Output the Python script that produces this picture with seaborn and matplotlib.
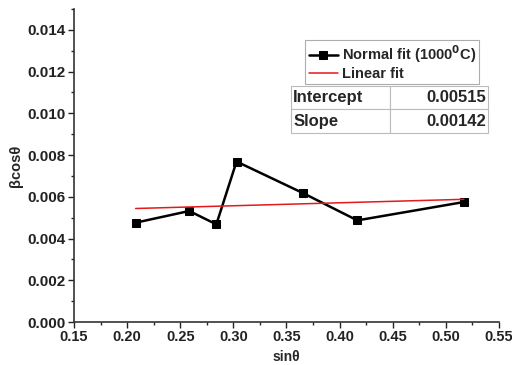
import matplotlib

matplotlib.use("Agg")

import matplotlib.pyplot as plt
import seaborn as sns
from matplotlib.ticker import MultipleLocator

# data
sin_theta = [0.208, 0.2585, 0.284, 0.303, 0.3655, 0.4167, 0.517]
beta_cos = [0.00476, 0.00532, 0.00468, 0.00769, 0.00618, 0.00487, 0.00575]
fit_x = [0.208, 0.517]
fit_y = [0.00544, 0.00588]
table_rows = [["Intercept", "0.00515"], ["Slope", "0.00142"]]

sns.set_style("ticks")
plt.rcParams['font.family'] = ['Liberation Sans', 'DejaVu Sans']
plt.rcParams['font.weight'] = 'bold'

fig = plt.figure(figsize=(5.12, 3.65), dpi=100)
ax = fig.add_axes([0.1445, 0.1178, 0.830, 0.8575])

sns.lineplot(x=sin_theta, y=beta_cos, ax=ax, color='black', lw=1.8,
             marker='s', markersize=5.5, markeredgecolor='black',
             label='Normal fit (1000$^0$C)')
sns.lineplot(x=fit_x, y=fit_y, ax=ax, color='#e31a1c', lw=1.1,
             label='Linear fit')

ax.set_xlim(0.15, 0.55)
ax.set_ylim(0, 0.015)
ax.xaxis.set_major_locator(MultipleLocator(0.05))
ax.xaxis.set_minor_locator(MultipleLocator(0.025))
ax.yaxis.set_minor_locator(MultipleLocator(0.001))
ax.set_yticks([0, 0.002, 0.004, 0.006, 0.008, 0.010, 0.012, 0.014])
ax.set_yticklabels([f"{v:.3f}" for v in ax.get_yticks()])
ax.set_xticklabels([f"{v:.2f}" for v in ax.get_xticks()])

for s in ['top', 'right']:
    ax.spines[s].set_visible(False)
for s in ['left', 'bottom']:
    ax.spines[s].set_color('#333333')
    ax.spines[s].set_linewidth(1.2)
ax.tick_params(which='major', direction='out', length=4, width=1,
               colors='#222222', pad=2)
ax.tick_params(axis='y', labelsize=11)
ax.tick_params(axis='x', labelsize=10.5)
ax.tick_params(which='minor', direction='out', length=2.5, width=1)
for t in ax.get_xticklabels() + ax.get_yticklabels():
    t.set_fontweight('bold')

ax.set_xlabel('sin\u03b8', fontsize=10, fontweight='bold', labelpad=4)
ax.set_ylabel('\u03b2cos\u03b8', fontsize=10.5, fontweight='bold', labelpad=3)

leg = ax.legend(loc='upper left', bbox_to_anchor=(0.544, 0.901),
                frameon=True, fancybox=False, edgecolor='#999999',
                fontsize=10.5, handlelength=2.0, handletextpad=0.25,
                borderpad=0.25, labelspacing=0.1, borderaxespad=0)
leg.get_frame().set_linewidth(0.8)
for t in leg.get_texts():
    t.set_fontweight('bold')

tbl = ax.table(cellText=table_rows, cellLoc='left',
               bbox=[0.511, 0.604, 0.464, 0.150])
tbl.auto_set_font_size(False)
for (r, c), cell in tbl.get_celld().items():
    cell.set_edgecolor('#bbbbbb')
    cell.set_linewidth(0.8)
    cell.PAD = 0.02
    cell.get_text().set_fontweight('bold')
    cell.get_text().set_fontsize(12)
    if c == 1:
        cell.get_text().set_horizontalalignment('right')

fig.savefig('out.png', dpi=100)
